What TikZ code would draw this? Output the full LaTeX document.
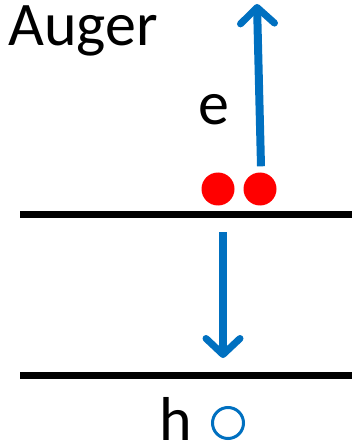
\documentclass[tikz,border=0pt]{standalone}
\usepackage{fontspec}
\setmainfont{Carlito}
\usetikzlibrary{arrows.meta}
\definecolor{augblue}{HTML}{0070C0}

\begin{document}
\begin{tikzpicture}[x=1pt,y=-1pt,
        level/.style={line width=7pt},
        hop/.style={augblue,line width=8pt,-{Straight Barb[length=16pt,width=34pt,line width=7pt,round]}},
        lbl/.style={font=\fontsize{62}{70}\selectfont,inner sep=0pt,text depth=0pt}]
            \useasboundingbox (0,0) rectangle (356,446);
            % energy levels
            \coordinate (up-l) at (20,214);   \coordinate (up-r) at (352,214);
            \coordinate (lo-l) at (20,375);   \coordinate (lo-r) at (352,375);
            \draw[level] (up-l) -- (up-r);
            \draw[level] (lo-l) -- (lo-r);
            % carriers
            \node[circle,fill=red,minimum size=33pt,inner sep=0pt] (e1) at (218,189) {};
            \node[circle,fill=red,minimum size=33pt,inner sep=0pt] (e2) at (260,189) {};
            \node[circle,draw=augblue,line width=3pt,minimum size=31pt,inner sep=0pt] (h1) at (228,423) {};
            % transitions
            \coordinate (esc) at (257,4);
            \coordinate (fall) at (223,358);
            \draw[hop] (e2.north) ++(1,-6) -- (esc);
            \draw[hop] (223,232) -- (fall);
            % labels
            \node[lbl,anchor=base west] (auger) at (8,46) {Auger};
            \node[lbl,anchor=base] (elab) at (214,125) {e};
            \node[lbl,anchor=base] (hlab) at (176,440) {h};
\end{tikzpicture}
\end{document}
